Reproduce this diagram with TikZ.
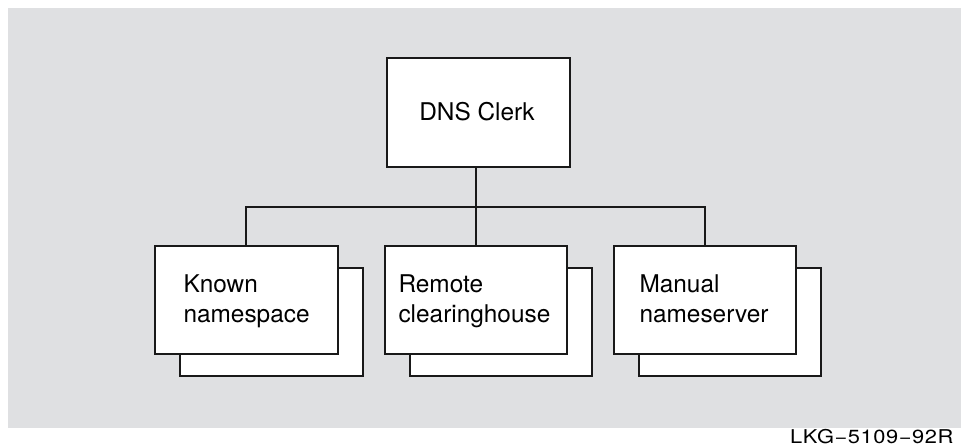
\documentclass[tikz,border=0pt]{standalone}
\usepackage{fontspec}
\setmainfont{TeX Gyre Heros}
\newfontfamily\lblfont[FakeStretch=1.15,LetterSpace=3]{TeX Gyre Heros}
\definecolor{bggray}{HTML}{DFE0E2}
\begin{document}
\begin{tikzpicture}[x=1pt,y=-1pt,
  frontbox/.style={draw=black!90,fill=white,line width=2pt,minimum width=182.5pt,minimum height=108.3pt,inner sep=0pt},
  backbox/.style={draw=black!90,fill=white,line width=2pt,minimum width=182.5pt,minimum height=108.3pt,inner sep=0pt},
  boxtext/.style={align=left,font=\fontsize{24.4}{29.4}\selectfont,inner sep=0pt},
  conn/.style={draw=black!90,line width=1.7pt}]
\useasboundingbox (0,0) rectangle (961,447);
\fill[bggray] (8,8) rectangle (961,428);
% DNS clerk
\node[frontbox,minimum width=183pt,minimum height=108.5pt] (dns) at (478.5,112.5) {};
\node[boxtext] (dnst) at (477,111.2) {DNS Clerk};
% back boxes
\node[backbox] (kb) at (271.3,322) {};
\node[backbox] (rb) at (501,322) {};
\node[backbox] (mb) at (730.2,322) {};
% front boxes
\node[frontbox] (k) at (246.3,300) {};
\node[frontbox] (r) at (476,300) {};
\node[frontbox] (m) at (705.2,300) {};
\node[boxtext,anchor=north west] (kt) at (183.3,275) {Known\\namespace};
\node[boxtext,anchor=north west] (rt) at (398.3,275) {Remote\\clearinghouse};
\node[boxtext,anchor=north west] (mt) at (639.3,275) {Manual\\nameserver};
% connectors
\coordinate (bus) at (476,206.7);
\draw[conn] (dns.south -| r.north) -- (r.north);
\draw[conn] (k.north) -- (k.north |- bus) -- (m.north |- bus) -- (m.north);
% label
\node[anchor=base east,inner sep=0pt,font=\lblfont\fontsize{19}{21}\selectfont] (lbl) at (953.5,443.8) {LKG−5109−92R};
\end{tikzpicture}
\end{document}
